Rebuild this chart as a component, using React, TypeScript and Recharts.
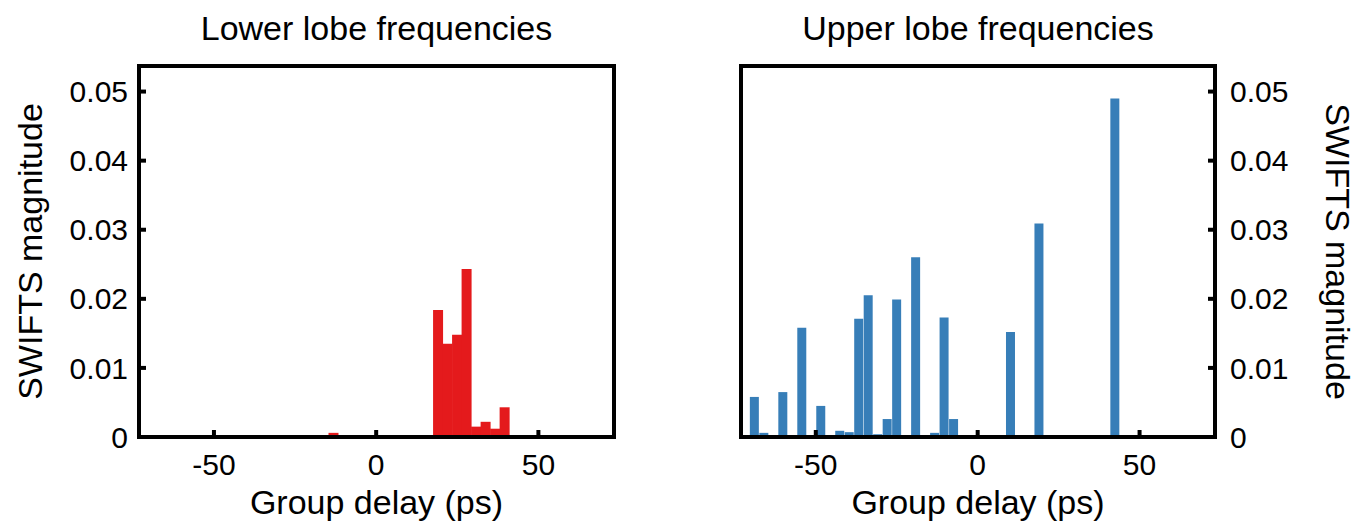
import React from 'react';
import { BarChart, Bar, XAxis, YAxis, Label } from 'recharts';

// Group delay bin centres (ps)
const delays = [
  -68.9, -65.97, -63.04, -60.11, -57.18, -54.25, -51.32, -48.39, -45.46, -42.53,
  -39.6, -36.67, -33.74, -30.81, -27.88, -24.95, -22.02, -19.09, -16.16, -13.23,
  -10.3, -7.37, -4.44, -1.51, 1.42, 4.35, 7.28, 10.21, 13.14, 16.07,
  19.0, 21.93, 24.86, 27.79, 30.72, 33.65, 36.58, 39.51, 42.44,
];

// SWIFTS magnitude, lower lobe frequencies
const lowerLobe = [
  0, 0, 0, 0, 0, 0, 0, 0, 0, 0,
  0, 0, 0, 0, 0, 0, 0, 0, 0, 0.0006,
  0, 0, 0, 0, 0, 0, 0, 0, 0, 0,
  0.0184, 0.0135, 0.0148, 0.0243, 0.0015, 0.0022, 0.0012, 0.0043, 0,
];

// SWIFTS magnitude, upper lobe frequencies
const upperLobe = [
  0.0058, 0.0006, 0, 0.0065, 0, 0.0158, 0, 0.0045, 0, 0.0009,
  0.0007, 0.0171, 0.0205, 0.0004, 0.0026, 0.0199, 0, 0.026, 0, 0.0006,
  0.0173, 0.0026, 0, 0, 0, 0, 0, 0.0152, 0, 0,
  0.0309, 0, 0, 0, 0, 0, 0, 0, 0.049,
];

const xTicks = [-50, 0, 50];
const yTicks = [0, 0.01, 0.02, 0.03, 0.04, 0.05];
const xDomain: [number, number] = [-73.1, 73.3];
const yDomain: [number, number] = [0, 0.0537];

const titles = ['Lower lobe frequencies', 'Upper lobe frequencies'];
const xLabel = 'Group delay (ps)';
const yLabel = 'SWIFTS magnitude';

const FONT = '"Liberation Sans", Arial, Helvetica, sans-serif';
const tickFont = { fontSize: 30, fill: '#000', fontFamily: FONT };
const axisLine = { stroke: '#000', strokeWidth: 4, strokeLinecap: 'square' as const };
const tickLine = { stroke: '#000', strokeWidth: 4 };
const fmt = (v: number) => (v === 0 ? '0' : v.toFixed(2));

const lowerData = delays.map((d, i) => ({ d, v: lowerLobe[i] }));
const upperData = delays.map((d, i) => ({ d, v: upperLobe[i] }));

function LeftPanel() {
  return (
    <BarChart
      width={680}
      height={526}
      data={lowerData}
      margin={{ top: 46, right: 0, bottom: 0, left: 0 }}
      barCategoryGap={0}
      barGap={0}
    >
      <XAxis
        xAxisId="top"
        orientation="top"
        type="number"
        dataKey="d"
        domain={xDomain}
        ticks={xTicks}
        allowDataOverflow
        height={20}
        tick={false}
        tickSize={-7}
        axisLine={axisLine}
        tickLine={tickLine}
      >
        <Label value={titles[0]} position="top" offset={6} fontSize={34} fill="#000" fontFamily={FONT} />
      </XAxis>
      <XAxis
        xAxisId="bottom"
        orientation="bottom"
        type="number"
        dataKey="d"
        domain={xDomain}
        ticks={xTicks}
        allowDataOverflow
        height={89}
        tick={tickFont}
        tickSize={-7}
        tickMargin={24}
        axisLine={axisLine}
        tickLine={tickLine}
      >
        <Label value={xLabel} position="insideBottom" offset={12} fontSize={34} fill="#000" fontFamily={FONT} />
      </XAxis>
      <YAxis
        yAxisId="left"
        orientation="left"
        type="number"
        domain={yDomain}
        ticks={yTicks}
        allowDataOverflow
        width={139}
        tick={tickFont}
        tickFormatter={fmt}
        tickSize={-7}
        tickMargin={18}
        axisLine={axisLine}
        tickLine={tickLine}
      >
        <Label
          value={yLabel}
          angle={-90}
          position="insideLeft"
          offset={30}
          fontSize={34}
          fill="#000"
          fontFamily={FONT}
          style={{ textAnchor: 'middle' }}
        />
      </YAxis>
      <YAxis
        yAxisId="right"
        orientation="right"
        type="number"
        domain={yDomain}
        ticks={yTicks}
        allowDataOverflow
        width={66}
        tick={false}
        tickSize={-7}
        axisLine={axisLine}
        tickLine={tickLine}
      />
      <Bar dataKey="v" xAxisId="bottom" yAxisId="left" fill="#E41A1C" isAnimationActive={false} />
    </BarChart>
  );
}

function RightPanel() {
  return (
    <BarChart
      width={678}
      height={526}
      data={upperData}
      margin={{ top: 46, right: 0, bottom: 0, left: 0 }}
      barCategoryGap={0}
      barGap={0}
    >
      <XAxis
        xAxisId="top"
        orientation="top"
        type="number"
        dataKey="d"
        domain={xDomain}
        ticks={xTicks}
        allowDataOverflow
        height={20}
        tick={false}
        tickSize={-7}
        axisLine={axisLine}
        tickLine={tickLine}
      >
        <Label value={titles[1]} position="top" offset={6} fontSize={34} fill="#000" fontFamily={FONT} />
      </XAxis>
      <XAxis
        xAxisId="bottom"
        orientation="bottom"
        type="number"
        dataKey="d"
        domain={xDomain}
        ticks={xTicks}
        allowDataOverflow
        height={89}
        tick={tickFont}
        tickSize={-7}
        tickMargin={24}
        axisLine={axisLine}
        tickLine={tickLine}
      >
        <Label value={xLabel} position="insideBottom" offset={12} fontSize={34} fill="#000" fontFamily={FONT} />
      </XAxis>
      <YAxis
        yAxisId="left"
        orientation="left"
        type="number"
        domain={yDomain}
        ticks={yTicks}
        allowDataOverflow
        width={61}
        tick={false}
        tickSize={-7}
        axisLine={axisLine}
        tickLine={tickLine}
      />
      <YAxis
        yAxisId="right"
        orientation="right"
        type="number"
        domain={yDomain}
        ticks={yTicks}
        allowDataOverflow
        width={143}
        tick={tickFont}
        tickFormatter={fmt}
        tickSize={-7}
        tickMargin={22}
        axisLine={axisLine}
        tickLine={tickLine}
      >
        <Label
          value={yLabel}
          angle={90}
          position="insideRight"
          offset={20}
          fontSize={34}
          fill="#000"
          fontFamily={FONT}
          style={{ textAnchor: 'middle' }}
        />
      </YAxis>
      <Bar dataKey="v" xAxisId="bottom" yAxisId="right" fill="#377EB8" isAnimationActive={false} />
    </BarChart>
  );
}

export default function App() {
  return (
    <div
      style={{
        position: 'absolute',
        left: 0,
        top: 0,
        width: 1358,
        height: 526,
        background: '#fff',
        overflow: 'hidden',
      }}
    >
      <div style={{ position: 'absolute', left: 0, top: 0 }}>
        <LeftPanel />
      </div>
      <div style={{ position: 'absolute', left: 680, top: 0 }}>
        <RightPanel />
      </div>
    </div>
  );
}
